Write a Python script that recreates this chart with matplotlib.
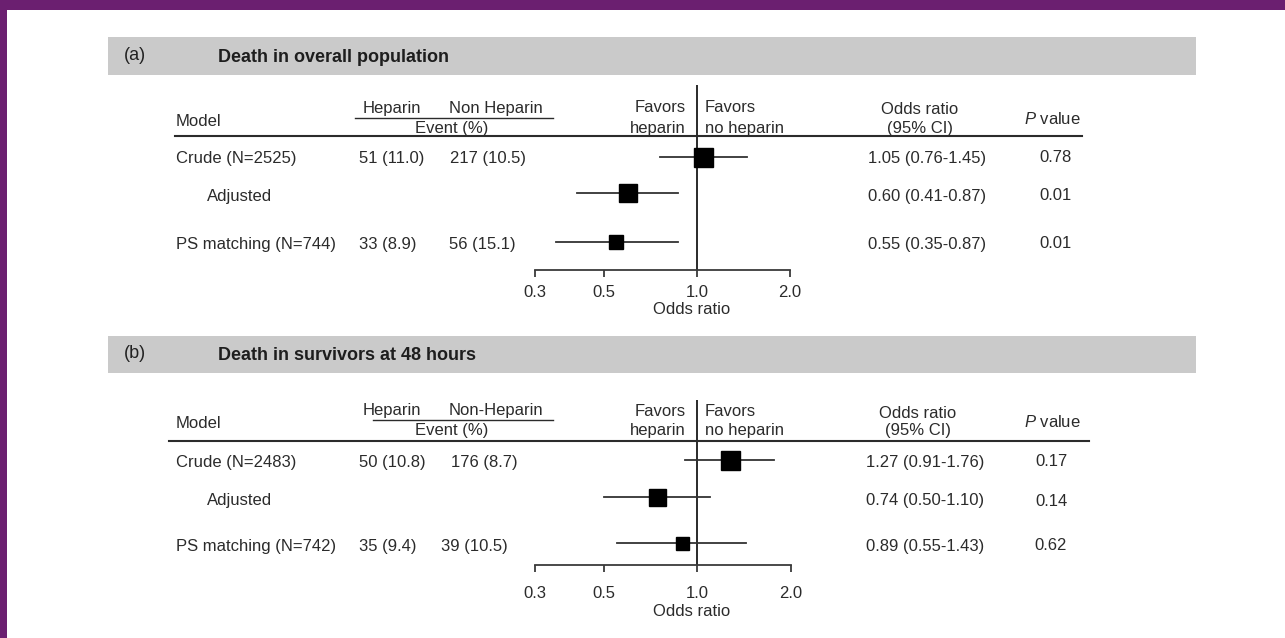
import matplotlib
matplotlib.use("Agg")
import matplotlib.pyplot as plt
from matplotlib.ticker import FixedLocator, FixedFormatter, NullLocator

plt.rcParams["font.family"] = ["Liberation Sans", "DejaVu Sans"]
plt.rcParams["mathtext.fontset"] = "custom"
plt.rcParams["mathtext.it"] = "Liberation Sans:italic"
plt.rcParams["mathtext.rm"] = "Liberation Sans"

W, H = 1285, 638
PURPLE = "#6b1f70"
BAND = "#cacaca"
INK = "#2b2b2b"
FS = 12

TICKS = [0.3, 0.5, 1.0, 2.0]
TICK_LABELS = ["0.3", "0.5", "1.0", "2.0"]

# panel (a)
TITLE_A = "Death in overall population"
MODELS_A = ["Crude (N=2525)", "Adjusted", "PS matching (N=744)"]
HEP_A = ["51 (11.0)", "", "33 (8.9)"]
NONHEP_A = ["217 (10.5)", "", "56 (15.1)"]
OR_A = [1.05, 0.60, 0.55]
LO_A = [0.76, 0.41, 0.35]
HI_A = [1.45, 0.87, 0.87]
P_A = ["0.78", "0.01", "0.01"]

# panel (b)
TITLE_B = "Death in survivors at 48 hours"
MODELS_B = ["Crude (N=2483)", "Adjusted", "PS matching (N=742)"]
HEP_B = ["50 (10.8)", "", "35 (9.4)"]
NONHEP_B = ["176 (8.7)", "", "39 (10.5)"]
OR_B = [1.27, 0.74, 0.89]
LO_B = [0.91, 0.50, 0.55]
HI_B = [1.76, 1.10, 1.43]
P_B = ["0.17", "0.14", "0.62"]

# layout in pixels (y measured from top)
LAYOUT_A = dict(band=(37, 75), head1=108, under=118, under_x=(355, 553), model_y=121,
                head2=128, line_y=136, line_x=(175, 1082), rows=[158, 196, 244],
                marks=[157, 193, 242], ax_top=85, ax_bot=270, ax_x=(535, 790),
                tick_pad=6, xlabel_y=310, or_x=927, p_x=1055, orhead_x=920,
                nonhep_x=[450, 450, 449], square_px=[19, 18, 14])
LAYOUT_B = dict(band=(336, 373), head1=411, under=420, under_x=(373, 553), model_y=424,
                head2=431, line_y=441, line_x=(169, 1089), rows=[462, 501, 546],
                marks=[460, 497, 543], ax_top=400, ax_bot=565, ax_x=(535, 791),
                tick_pad=10, xlabel_y=612, or_x=925, p_x=1051, orhead_x=918,
                nonhep_x=[451, 451, 441], square_px=[19, 17, 13])


def draw_panel(fig, bg, lay, tag, title, nonhep_head, models, hep, nonhep, ors, lo, hi, pvals):
    y0, y1 = lay["band"]
    bg.add_patch(plt.Rectangle((108, y0), 1196 - 108, y1 - y0, color=BAND, lw=0, zorder=0))
    ym = (y0 + y1) / 2
    bg.text(124, ym - 1, tag, fontsize=13, color="#222222", va="center")
    bg.text(218, ym + 1, title, fontsize=13, fontweight="bold", color="#1e1e1e", va="center")

    # column headers
    bg.text(176, lay["model_y"], "Model", fontsize=FS, color=INK, va="center")
    bg.text(392, lay["head1"], "Heparin", fontsize=FS, color=INK, va="center", ha="center")
    bg.text(496, lay["head1"], nonhep_head, fontsize=FS, color=INK, va="center", ha="center")
    bg.plot(lay["under_x"], [lay["under"]] * 2, color=INK, lw=1.0)
    bg.text(452, lay["head2"], "Event (%)", fontsize=FS, color=INK, va="center", ha="center")
    bg.text(686, lay["head1"], "Favors", fontsize=FS, color=INK, va="center", ha="right")
    bg.text(686, lay["head2"], "heparin", fontsize=FS, color=INK, va="center", ha="right")
    bg.text(705, lay["head1"], "Favors", fontsize=FS, color=INK, va="center")
    bg.text(705, lay["head2"], "no heparin", fontsize=FS, color=INK, va="center")
    bg.text(lay["orhead_x"], lay["head1"] + 2, "Odds ratio", fontsize=FS, color=INK, va="center", ha="center")
    bg.text(lay["orhead_x"], lay["head2"], "(95% CI)", fontsize=FS, color=INK, va="center", ha="center")
    bg.text(1052, (lay["head1"] + lay["head2"]) / 2 + 1, "$P$ value", fontsize=FS, color=INK,
            va="center", ha="center")
    bg.plot(lay["line_x"], [lay["line_y"]] * 2, color=INK, lw=1.5)

    # rows
    for i, y in enumerate(lay["rows"]):
        x = 207 if models[i] == "Adjusted" else 176
        bg.text(x, y, models[i], fontsize=FS, color=INK, va="center")
        bg.text(359, y, hep[i], fontsize=FS, color=INK, va="center")
        bg.text(lay["nonhep_x"][i], y, nonhep[i], fontsize=FS, color=INK, va="center")
        bg.text(lay["or_x"], y, f"{ors[i]:.2f} ({lo[i]:.2f}-{hi[i]:.2f})", fontsize=FS,
                color=INK, va="center", ha="center")
        bg.text(lay["p_x"], y, pvals[i], fontsize=FS, color=INK, va="center", ha="center")

    # forest axes
    xa, xb = lay["ax_x"]
    top, bot = lay["ax_top"], lay["ax_bot"]
    ax = fig.add_axes([xa / W, 1 - bot / H, (xb - xa) / W, (bot - top) / H])
    ax.set_facecolor("none")
    ax.set_xscale("log")
    ax.set_xlim(TICKS[0], TICKS[-1])
    ax.set_ylim(bot, top)
    for s in ["top", "right", "left"]:
        ax.spines[s].set_visible(False)
    ax.spines["bottom"].set_color("#3a3a3a")
    ax.spines["bottom"].set_linewidth(1.3)
    ax.xaxis.set_major_locator(FixedLocator(TICKS))
    ax.xaxis.set_major_formatter(FixedFormatter(TICK_LABELS))
    ax.xaxis.set_minor_locator(NullLocator())
    ax.set_yticks([])
    ax.tick_params(axis="x", direction="out", length=5, width=1.3, color="#3a3a3a",
                   labelsize=FS, labelcolor=INK, pad=lay["tick_pad"])
    ax.axvline(1.0, color="#2a2a2a", lw=1.4, zorder=1)
    for i, y in enumerate(lay["marks"]):
        ax.plot([lo[i], hi[i]], [y, y], color="#333333", lw=1.3, zorder=2, clip_on=False)
        ax.plot([ors[i]], [y], marker="s", color="black",
                markersize=lay["square_px"][i] * 0.72, zorder=3, clip_on=False)
    bg.text(692, lay["xlabel_y"], "Odds ratio", fontsize=FS, color=INK, va="center", ha="center")


def main():
    fig = plt.figure(figsize=(W / 100, H / 100), dpi=100)
    bg = fig.add_axes([0, 0, 1, 1])
    bg.set_xlim(0, W)
    bg.set_ylim(H, 0)
    bg.axis("off")

    # purple frame
    bg.add_patch(plt.Rectangle((0, 0), W, 10, color=PURPLE, lw=0))
    bg.add_patch(plt.Rectangle((0, 0), 7, H, color=PURPLE, lw=0))

    draw_panel(fig, bg, LAYOUT_A, "(a)", TITLE_A, "Non Heparin",
               MODELS_A, HEP_A, NONHEP_A, OR_A, LO_A, HI_A, P_A)
    draw_panel(fig, bg, LAYOUT_B, "(b)", TITLE_B, "Non-Heparin",
               MODELS_B, HEP_B, NONHEP_B, OR_B, LO_B, HI_B, P_B)

    fig.savefig("out.png", dpi=100)
    plt.close(fig)


if __name__ == "__main__":
    main()
